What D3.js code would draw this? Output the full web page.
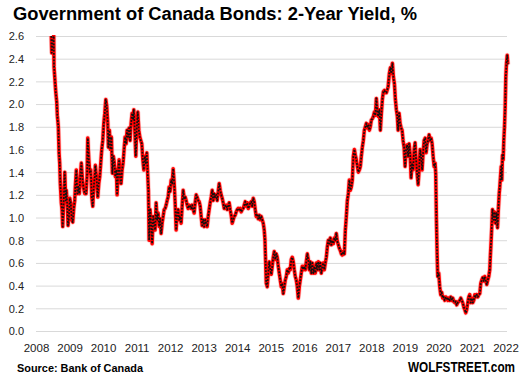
<!DOCTYPE html>
<html>
<head>
<meta charset="utf-8">
<script src="https://cdn.jsdelivr.net/npm/d3@7"></script>
<style>
  html, body { margin: 0; padding: 0; background: #fff; }
  svg { display: block; }
</style>
</head>
<body>
<svg id="chart" width="521" height="383"></svg>
<script>
// ---- Data (decimal years, 2-year yield in %) ----
const years = [
2008.457,2008.469,2008.498,2008.528,2008.537,2008.558,2008.588,2008.618,2008.636,2008.666,2008.687,2008.707,2008.725,2008.755,2008.776,2008.797,2008.827,2008.857,2008.887,2008.904,2008.934,2008.955,2008.985,
2009.006,2009.036,2009.066,2009.096,2009.125,2009.155,2009.173,2009.203,2009.233,2009.263,2009.293,2009.322,2009.352,2009.382,2009.412,2009.454,2009.493,2009.522,2009.543,2009.573,2009.603,2009.633,2009.663,2009.693,2009.722,2009.752,2009.770,2009.812,2009.842,2009.872,2009.901,2009.931,2009.961,2009.991,
2010.021,2010.051,2010.081,2010.110,2010.140,2010.158,2010.188,2010.218,2010.248,2010.278,2010.307,2010.337,2010.367,2010.397,2010.418,2010.448,2010.478,2010.507,2010.537,2010.567,2010.597,2010.627,2010.657,2010.687,2010.716,2010.746,2010.776,2010.806,2010.836,2010.866,2010.896,2010.916,2010.946,2010.976,
2011.006,2011.036,2011.066,2011.096,2011.125,2011.155,2011.185,2011.215,2011.245,2011.275,2011.304,2011.334,2011.352,2011.373,2011.403,2011.433,2011.463,2011.493,2011.522,2011.552,2011.582,2011.612,2011.642,2011.672,2011.701,2011.731,2011.761,2011.791,2011.821,2011.851,2011.881,2011.910,2011.940,2011.970,
2012.000,2012.030,2012.060,2012.090,2012.119,2012.149,2012.179,2012.209,2012.239,2012.269,2012.299,2012.328,2012.358,2012.388,2012.418,2012.448,2012.478,2012.507,2012.537,2012.567,2012.597,2012.627,2012.657,2012.687,2012.716,2012.746,2012.776,2012.806,2012.836,2012.866,2012.896,2012.925,2012.955,2012.985,
2013.015,2013.045,2013.075,2013.104,2013.134,2013.164,2013.194,2013.224,2013.254,2013.284,2013.313,2013.343,2013.373,2013.403,2013.433,2013.463,2013.493,2013.522,2013.552,2013.582,2013.612,2013.642,2013.672,2013.701,2013.731,2013.761,2013.791,2013.821,2013.851,2013.881,2013.910,2013.940,2013.970,
2014.000,2014.030,2014.060,2014.090,2014.119,2014.149,2014.179,2014.209,2014.239,2014.269,2014.299,2014.328,2014.358,2014.388,2014.418,2014.448,2014.478,2014.507,2014.537,2014.567,2014.597,2014.627,2014.657,2014.687,2014.716,2014.746,2014.776,2014.806,2014.827,2014.845,2014.866,2014.896,2014.925,2014.955,2014.985,
2015.015,2015.045,2015.075,2015.104,2015.134,2015.164,2015.194,2015.224,2015.254,2015.284,2015.313,2015.343,2015.373,2015.403,2015.433,2015.463,2015.493,2015.522,2015.552,2015.582,2015.612,2015.642,2015.672,2015.701,2015.731,2015.761,2015.791,2015.821,2015.851,2015.881,2015.910,2015.940,2015.970,
2016.000,2016.030,2016.060,2016.090,2016.119,2016.149,2016.179,2016.209,2016.239,2016.269,2016.299,2016.328,2016.358,2016.388,2016.418,2016.448,2016.478,2016.507,2016.537,2016.567,2016.597,2016.627,2016.657,2016.687,2016.716,2016.746,2016.776,2016.806,2016.836,2016.866,2016.896,2016.925,2016.955,2016.985,
2017.015,2017.045,2017.075,2017.104,2017.134,2017.164,2017.194,2017.224,2017.254,2017.284,2017.313,2017.343,2017.373,2017.403,2017.433,2017.463,2017.493,2017.522,2017.552,2017.582,2017.612,2017.642,2017.672,2017.701,2017.731,2017.761,2017.791,2017.821,2017.851,2017.881,2017.910,2017.940,2017.970,
2018.000,2018.030,2018.060,2018.090,2018.119,2018.149,2018.179,2018.209,2018.239,2018.269,2018.299,2018.328,2018.358,2018.388,2018.418,2018.448,2018.499,2018.537,2018.567,2018.597,2018.627,2018.657,2018.687,2018.716,2018.746,2018.776,2018.797,2018.827,2018.857,2018.887,2018.916,2018.946,2018.976,
2019.006,2019.036,2019.066,2019.096,2019.125,2019.155,2019.185,2019.215,2019.245,2019.275,2019.304,2019.334,2019.364,2019.394,2019.424,2019.454,2019.484,2019.513,2019.543,2019.573,2019.603,2019.633,2019.663,2019.693,2019.722,2019.752,2019.782,2019.812,2019.842,2019.872,2019.901,2019.919,2019.940,2019.961,2019.979,
2020.009,2020.039,2020.069,2020.099,2020.128,2020.158,2020.188,2020.218,2020.248,2020.278,2020.307,2020.337,2020.367,2020.397,2020.427,2020.457,2020.487,2020.516,2020.546,2020.576,2020.606,2020.636,2020.666,2020.696,2020.725,2020.755,2020.785,2020.815,2020.845,2020.875,2020.904,2020.934,2020.964,2020.994,
2021.024,2021.054,2021.084,2021.113,2021.143,2021.173,2021.203,2021.233,2021.263,2021.293,2021.322,2021.352,2021.382,2021.412,2021.442,2021.472,2021.501,2021.531,2021.552,2021.573,2021.591,2021.612,2021.642,2021.672,2021.701,2021.731,2021.761,2021.791,2021.812,2021.830,2021.851,2021.872,2021.890,2021.910,2021.931,2021.949,2021.970,2021.991,
2022.009,2022.030,2022.051,2022.069
];
const yields = [
2.60,2.45,2.56,2.60,2.33,2.24,2.11,2.02,1.90,1.80,1.57,1.48,1.30,1.13,1.07,0.92,1.15,1.40,1.15,1.24,1.10,0.93,1.01,
1.17,1.13,0.98,0.96,1.08,1.15,1.27,1.42,1.21,1.27,1.21,1.36,1.48,1.35,1.27,1.21,1.21,1.36,1.70,1.52,1.39,1.42,1.18,1.10,1.27,1.36,1.46,1.33,1.18,1.30,1.36,1.48,1.60,1.68,
1.83,1.92,2.04,1.98,1.83,1.62,1.77,1.60,1.71,1.39,1.54,1.48,1.36,1.42,1.20,1.39,1.51,1.36,1.30,1.42,1.48,1.60,1.71,1.65,1.77,1.71,1.79,1.68,1.83,1.92,1.86,1.95,1.77,1.54,
1.80,1.93,1.77,1.71,1.68,1.65,1.51,1.42,1.54,1.48,1.57,1.36,1.24,0.80,1.07,0.95,0.77,1.01,0.95,0.89,1.13,0.98,1.04,0.92,0.99,0.86,0.95,1.01,1.07,1.08,1.11,1.15,1.18,1.27,
1.23,1.33,1.30,1.43,1.31,1.13,0.89,1.04,1.07,0.98,1.01,0.95,1.10,1.24,1.17,1.18,1.15,1.11,1.08,1.11,1.10,1.08,1.11,1.07,1.04,1.13,1.20,1.18,1.15,1.14,1.10,1.01,0.93,0.98,
0.92,0.98,0.95,0.92,1.01,1.07,1.13,1.18,1.24,1.15,1.21,1.18,1.20,1.15,1.23,1.30,1.24,1.20,1.17,1.13,1.08,1.10,1.11,1.07,1.10,1.13,1.07,1.02,0.95,0.98,1.01,1.02,1.05,
1.07,1.08,1.07,1.08,1.05,1.07,1.08,1.11,1.14,1.10,1.13,1.08,1.10,1.13,1.14,1.10,1.17,1.14,1.07,1.01,1.02,0.99,1.02,0.98,1.01,0.98,0.95,0.89,0.80,0.63,0.42,0.39,0.51,0.61,0.54,
0.50,0.57,0.65,0.70,0.63,0.68,0.65,0.57,0.51,0.45,0.39,0.42,0.33,0.39,0.45,0.48,0.54,0.51,0.55,0.54,0.63,0.65,0.61,0.54,0.48,0.45,0.39,0.29,0.39,0.45,0.51,0.57,0.54,
0.57,0.54,0.61,0.68,0.63,0.54,0.61,0.51,0.60,0.51,0.57,0.51,0.60,0.54,0.61,0.54,0.60,0.51,0.57,0.60,0.54,0.60,0.65,0.74,0.80,0.77,0.82,0.76,0.80,0.77,0.82,0.80,0.86,0.79,
0.76,0.73,0.71,0.68,0.67,0.70,0.68,0.89,1.01,1.15,1.21,1.33,1.24,1.27,1.33,1.54,1.60,1.55,1.51,1.45,1.40,1.42,1.45,1.54,1.62,1.68,1.77,1.80,1.83,1.79,1.82,1.77,1.80,
1.86,1.87,1.89,1.93,1.90,2.05,1.93,1.89,1.95,1.77,1.92,2.04,2.11,2.12,2.10,2.10,2.15,2.27,2.32,2.27,2.36,2.24,2.18,2.04,1.95,1.89,1.77,1.92,1.83,1.79,1.77,1.68,1.62,
1.45,1.60,1.64,1.54,1.65,1.57,1.35,1.48,1.42,1.60,1.66,1.51,1.39,1.29,1.42,1.60,1.54,1.42,1.57,1.68,1.70,1.57,1.65,1.68,1.73,1.68,1.70,1.65,1.54,1.45,1.48,1.39,0.98,0.68,0.48,
0.51,0.39,0.32,0.34,0.29,0.30,0.27,0.30,0.29,0.27,0.29,0.27,0.30,0.27,0.29,0.26,0.25,0.26,0.23,0.25,0.26,0.27,0.29,0.27,0.25,0.21,0.19,0.16,0.19,0.25,0.30,0.32,0.25,0.29,
0.25,0.27,0.32,0.30,0.32,0.30,0.32,0.33,0.42,0.45,0.47,0.44,0.48,0.44,0.41,0.45,0.48,0.54,0.68,0.80,0.92,1.07,0.98,1.05,0.95,1.04,0.91,1.10,1.21,1.27,1.36,1.45,1.33,1.55,1.51,1.68,1.80,1.98,
2.24,2.36,2.43,2.35
];
const yTicks = [0.0,0.2,0.4,0.6,0.8,1.0,1.2,1.4,1.6,1.8,2.0,2.2,2.4,2.6];
const xTicks = [2008,2009,2010,2011,2012,2013,2014,2015,2016,2017,2018,2019,2020,2021,2022];
const titleText = "Government of Canada Bonds: 2-Year Yield, %";
const sourceText = "Source: Bank of Canada";
const brandText = "WOLFSTREET.com";

// ---- Chart ----
const svg = d3.select("#chart");
const font = "'Liberation Sans', Arial, sans-serif";

const x = d3.scaleLinear().domain([2008, 2022]).range([36, 505.5]);
const y = d3.scaleLinear().domain([0, 2.6]).range([331, 36]);
const gridRight = 507;

svg.append("rect").attr("width", 521).attr("height", 383).attr("fill", "#fff");

// gridlines + y labels via axis
const yAxis = d3.axisLeft(y)
  .tickValues(yTicks)
  .tickSize(-(gridRight - 36))
  .tickPadding(12)
  .tickFormat(d3.format(".1f"));
const gy = svg.append("g").attr("transform", "translate(36,0)").call(yAxis);
gy.select(".domain").remove();
gy.selectAll(".tick line").attr("stroke", "#d9d9d9").attr("stroke-width", 1);
gy.selectAll(".tick text")
  .attr("font-family", font).attr("font-size", 11).attr("fill", "#222")
  .attr("dy", "0.35em");

// x labels via axis
const xAxis = d3.axisBottom(x).tickValues(xTicks).tickSize(0).tickPadding(0).tickFormat(d3.format("d"));
const gx = svg.append("g").attr("transform", "translate(0,344)").call(xAxis);
gx.select(".domain").remove();
gx.selectAll(".tick text")
  .attr("font-family", font).attr("font-size", 11.5).attr("fill", "#222")
  .attr("dy", "0.71em");

// clip
svg.append("clipPath").attr("id", "clip")
  .append("rect").attr("x", 30).attr("y", y(2.6) - 1).attr("width", 490).attr("height", y(0) - y(2.6) + 10);

const data = years.map((t, i) => ({t, v: yields[i]}));
const line = d3.line().x(d => x(d.t)).y(d => y(d.v));

const lg = svg.append("g").attr("clip-path", "url(#clip)");
lg.append("path").datum(data).attr("d", line)
  .attr("fill", "none").attr("stroke", "#ff9999").attr("stroke-width", 5).attr("stroke-linejoin", "round").attr("opacity", 0.5);
lg.append("path").datum(data).attr("d", line)
  .attr("fill", "none").attr("stroke", "#ff0000").attr("stroke-width", 3.5).attr("stroke-linejoin", "round");
lg.append("path").datum(data).attr("d", line)
  .attr("fill", "none").attr("stroke", "#111").attr("stroke-width", 1.7)
  .attr("stroke-dasharray", "1.8,1.4").attr("stroke-linejoin", "round");

// title
svg.append("text").attr("x", 13).attr("y", 19.5)
  .attr("font-family", font).attr("font-weight", "bold").attr("font-size", 17.5).attr("fill", "#000")
  .attr("textLength", 404).attr("lengthAdjust", "spacingAndGlyphs")
  .text(titleText);

// source
svg.append("text").attr("x", 17).attr("y", 371.5)
  .attr("font-family", font).attr("font-weight", "bold").attr("font-size", 11.5).attr("fill", "#000")
  .attr("textLength", 126).attr("lengthAdjust", "spacingAndGlyphs")
  .text(sourceText);

// brand (right-aligned, horizontally condensed by transform)
svg.append("text")
  .attr("transform", "translate(515,371.5) scale(0.84,1)")
  .attr("text-anchor", "end")
  .attr("font-family", font)
  .attr("font-weight", "bold").attr("font-size", 14).attr("fill", "#000")
  .text(brandText);
</script>
</body>
</html>
